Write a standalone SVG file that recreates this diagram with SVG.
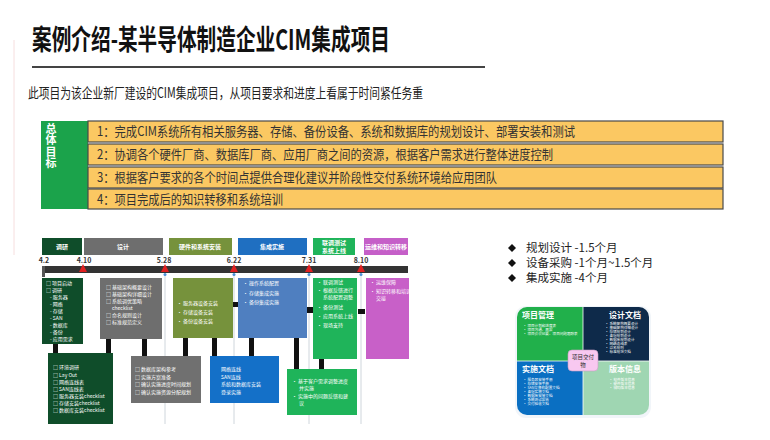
<svg xmlns="http://www.w3.org/2000/svg" width="770" height="440" viewBox="0 0 770 440">
<style>
  text { font-family: "Noto Sans CJK SC", "Liberation Sans", sans-serif; }
  .title { font-size: 28px; font-weight: bold; fill: #111; }
  .sub { font-size: 14px; fill: #222; }
  .row { fill: #fbc862; stroke: #4a4a4a; stroke-width: 1.2; }
  .rowt { font-size: 13px; fill: #333; }
  .goal { font-size: 11px; font-weight: bold; fill: #fff; writing-mode: vertical-rl; letter-spacing: 0.5px; }
  .hd { font-size: 6px; font-weight: bold; fill: #fff; text-anchor: middle; }
  .dt { font-size: 7px; font-weight: bold; fill: #333; text-anchor: middle; }
  .t { font-size: 5px; fill: #fff; }
  .bar { fill: #111; }
  .vl { stroke: #cfd6dc; stroke-width: 1; }
  .bl { font-size: 11.5px; fill: #222; }
  .qh { font-size: 8px; font-weight: bold; fill: #fff; }
  .qt { font-size: 3.6px; fill: #fff; }
</style>

<!-- decoration -->
<line x1="14" y1="40" x2="14" y2="255" stroke="#f6dede" stroke-width="1"/>

<g id="title">
  <text class="title" x="32" y="50" textLength="358" lengthAdjust="spacingAndGlyphs">案例介绍-某半导体制造企业CIM集成项目</text>
  <line x1="32" y1="67" x2="485" y2="67" stroke="#444" stroke-width="2"/>
</g>

<g id="subtitle">
  <text class="sub" x="28" y="98" textLength="395" lengthAdjust="spacingAndGlyphs">此项目为该企业新厂建设的CIM集成项目，从项目要求和进度上看属于时间紧任务重</text>
</g>

<g id="goals">
  <rect x="41" y="121" width="47" height="88" fill="#1ba34b"/>
  <text class="goal" x="51" y="123">总体目标</text>
  <rect class="row" x="88" y="121" width="635" height="21"/>
  <rect class="row" x="88" y="144" width="635" height="21"/>
  <rect class="row" x="88" y="167" width="635" height="21"/>
  <rect class="row" x="88" y="189" width="635" height="20"/>
  <text class="rowt" x="97" y="136" textLength="478" lengthAdjust="spacingAndGlyphs">1：完成CIM系统所有相关服务器、存储、备份设备、系统和数据库的规划设计、部署安装和测试</text>
  <text class="rowt" x="97" y="159" textLength="456" lengthAdjust="spacingAndGlyphs">2：协调各个硬件厂商、数据库厂商、应用厂商之间的资源，根据客户需求进行整体进度控制</text>
  <text class="rowt" x="97" y="182" textLength="400" lengthAdjust="spacingAndGlyphs">3：根据客户要求的各个时间点提供合理化建议并阶段性交付系统环境给应用团队</text>
  <text class="rowt" x="97" y="204" textLength="186" lengthAdjust="spacingAndGlyphs">4：项目完成后的知识转移和系统培训</text>
</g>

<!-- timeline -->
<g id="phase-headers">
  <rect x="42" y="238" width="40" height="17" fill="#0f4d2a"/>
  <text class="hd" x="62" y="249">调研</text>
  <rect x="84" y="238" width="79" height="17" fill="#6e6e6e"/>
  <text class="hd" x="123" y="249">设计</text>
  <rect x="169" y="238" width="63" height="17" fill="#76923c"/>
  <text class="hd" x="200" y="249">硬件和系统安装</text>
  <rect x="238" y="238" width="69" height="17" fill="#1f6fc1"/>
  <text class="hd" x="272" y="249">集成实施</text>
  <rect x="313" y="238" width="42" height="17" fill="#1fb45a"/>
  <text class="hd"><tspan x="334" y="245">联调测试</tspan><tspan x="334" y="252.5">系统上线</tspan></text>
  <rect x="364" y="238" width="44" height="17" fill="#c55fc8"/>
  <text class="hd" x="386" y="249">运维和知识转移</text>
</g>

<g id="timeline-axis">
  <line class="vl" x1="165" y1="274" x2="165" y2="424"/>
  <line class="vl" x1="234" y1="274" x2="234" y2="424"/>
  <line class="vl" x1="309" y1="274" x2="309" y2="424"/>
  <line class="vl" x1="361" y1="274" x2="361" y2="424"/>
  <rect x="42" y="266" width="366" height="7" fill="#333"/>
  <rect x="42" y="266" width="3" height="11" fill="#555"/>
  <text class="dt" x="44" y="263">4.2</text>
  <text class="dt" x="84" y="263">4.10</text>
  <text class="dt" x="164" y="263">5.28</text>
  <text class="dt" x="234" y="263">6.22</text>
  <text class="dt" x="309" y="263">7.31</text>
  <text class="dt" x="361" y="263">8.10</text>
  <g fill="#e02020">
    <polygon points="79,272 83,264 87,272"/>
    <polygon points="161,272 165,264 169,272"/>
    <polygon points="230,272 234,264 238,272"/>
    <polygon points="305,272 309,264 313,272"/>
    <polygon points="357,272 361,264 365,272"/>
  </g>
  <g fill="#4a90d9">
    <circle cx="165" cy="274.5" r="1.5"/>
    <circle cx="234" cy="274.5" r="1.5"/>
    <circle cx="309" cy="274.5" r="1.5"/>
    <circle cx="361" cy="274.5" r="1.5"/>
  </g>
</g>

<g id="connectors">
  <rect class="bar" x="53" y="344" width="5" height="9"/>
  <rect class="bar" x="106" y="339" width="5" height="14"/>
  <rect class="bar" x="142" y="339" width="5" height="17"/>
  <rect class="bar" x="183" y="338" width="5" height="18"/>
  <rect class="bar" x="212" y="338" width="5" height="18"/>
  <rect class="bar" x="249" y="338" width="5" height="18"/>
  <rect class="bar" x="294" y="338" width="5" height="31"/>
  <rect class="bar" x="319" y="359" width="5" height="10"/>
  <rect class="bar" x="233" y="302" width="5" height="5"/>
  <rect class="bar" x="307" y="307" width="6" height="6"/>
  <rect class="bar" x="358" y="309" width="7" height="5"/>
</g>

<g id="research-box">
  <rect x="42" y="278" width="41" height="66" fill="#0f4d2a"/>
  <text class="t"><tspan x="46" y="285">□ 项目启动</tspan><tspan x="46" y="292">□ 调研</tspan><tspan x="50" y="299">- 服务器</tspan><tspan x="50" y="306">- 网络</tspan><tspan x="50" y="313">- 存储</tspan><tspan x="50" y="320">- SAN</tspan><tspan x="50" y="327">- 数据库</tspan><tspan x="50" y="334">- 备份</tspan><tspan x="50" y="341">- 应用需求</tspan></text>
</g>

<g id="design-box">
  <rect x="100" y="278" width="62" height="61" fill="#6e6e6e"/>
  <text class="t"><tspan x="106" y="289">□ 基础架构概要设计</tspan><tspan x="106" y="296">□ 基础架构详细设计</tspan><tspan x="106" y="303">□ 系统调优策略</tspan><tspan x="112" y="310">checklist</tspan><tspan x="106" y="317">□ 命名规则设计</tspan><tspan x="106" y="324">□ 标准规范定义</tspan></text>
</g>

<g id="install-box">
  <rect x="173" y="278" width="60" height="60" fill="#76923c"/>
  <text class="t"><tspan x="177" y="305">•  服务器设备安装</tspan><tspan x="177" y="314">•  存储设备安装</tspan><tspan x="177" y="323">•  备份设备安装</tspan></text>
</g>

<g id="integration-box">
  <rect x="238" y="278" width="69" height="60" fill="#4f7fc0"/>
  <text class="t"><tspan x="243" y="285">•  操作系统配置</tspan><tspan x="243" y="295">•  存储集成实施</tspan><tspan x="243" y="304">•  备份集成实施</tspan></text>
</g>

<g id="testing-box">
  <rect x="313" y="278" width="44" height="81" fill="#1fb45a"/>
  <text class="t"><tspan x="317" y="284">•  联调测试</tspan><tspan x="317" y="292">•  根据反馈进行</tspan><tspan x="323" y="299">系统配置调整</tspan><tspan x="317" y="309">•  备份测试</tspan><tspan x="317" y="318">•  应用系统上线</tspan><tspan x="317" y="327">•  现场支持</tspan></text>
</g>

<g id="ops-box">
  <rect x="366" y="278" width="43" height="81" fill="#c860c8"/>
  <text class="t"><tspan x="370" y="284">•  运维保障</tspan><tspan x="370" y="293">•  知识转移和培训</tspan><tspan x="376" y="300">交接</tspan></text>
</g>

<g id="research-detail">
  <rect x="48" y="353" width="65" height="71" fill="#0f4d2a"/>
  <text class="t"><tspan x="53" y="369">□  环境调研</tspan><tspan x="53" y="377">□  Lay Out</tspan><tspan x="53" y="384">□  网络连线表</tspan><tspan x="53" y="391">□  SAN连线表</tspan><tspan x="53" y="398">□  服务器安装checklist</tspan><tspan x="53" y="405">□  存储安装checklist</tspan><tspan x="53" y="412">□  数据库安装checklist</tspan></text>
</g>

<g id="design-detail">
  <rect x="131" y="356" width="70" height="47" fill="#707070"/>
  <text class="t"><tspan x="135" y="371">□  数据库架构参考</tspan><tspan x="135" y="378.5">□  实施方案准备</tspan><tspan x="135" y="386">□  确认实施进度时间规划</tspan><tspan x="135" y="393.5">□  确认实施资源分配规划</tspan></text>
</g>

<g id="integration-detail">
  <rect x="210" y="356" width="69" height="47" fill="#1470c8"/>
  <text class="t"><tspan x="221" y="371">网络连线</tspan><tspan x="221" y="378.5">SAN连线</tspan><tspan x="221" y="386">系统和数据库安装</tspan><tspan x="221" y="393.5">登录实施</tspan></text>
</g>

<g id="testing-detail">
  <rect x="287" y="369" width="70" height="46" fill="#1fb45a"/>
  <text class="t"><tspan x="292" y="383">•  基于客户需求调整进度</tspan><tspan x="299" y="390">并实施</tspan><tspan x="292" y="398">•  实施中的问题反馈和建</tspan><tspan x="299" y="405">议</tspan></text>
</g>

<g id="durations">
  <path d="M512,244 L516,248 L512,252 L508,248 Z" fill="#111"/>
  <path d="M512,259 L516,263 L512,267 L508,263 Z" fill="#111"/>
  <path d="M512,274 L516,278 L512,282 L508,278 Z" fill="#111"/>
  <text class="bl"><tspan x="526" y="252">规划设计 -1.5个月</tspan><tspan x="526" y="267">设备采购 -1个月~1.5个月</tspan><tspan x="526" y="282">集成实施 -4个月</tspan></text>
</g>

<g id="deliverables">
  <defs>
    <clipPath id="qc"><rect x="517" y="307" width="132" height="108" rx="10"/></clipPath>
  </defs>
  <rect x="515" y="306" width="136" height="112" rx="11" fill="#e8eef5" opacity="0.6"/>
  <g clip-path="url(#qc)">
    <rect x="517" y="307" width="66" height="54" fill="#21b04b"/>
    <rect x="583" y="307" width="66" height="54" fill="#0e2a4a"/>
    <rect x="517" y="361" width="66" height="54" fill="#0a6fc2"/>
    <rect x="583" y="361" width="66" height="54" fill="#9fd6b2"/>
  </g>
  <line x1="583" y1="307" x2="583" y2="415" stroke="#fff" stroke-width="0.8"/>
  <line x1="517" y1="361" x2="649" y2="361" stroke="#fff" stroke-width="0.8"/>
  <text class="qh" x="522" y="318">项目管理</text>
  <text class="qt"><tspan x="523" y="327">• 项目计划和进度表</tspan><tspan x="523" y="331">• 项目沟通、周报</tspan><tspan x="523" y="335">• 项目会议纪要、项目问题跟踪表</tspan></text>
  <text class="qh" x="641" y="318" text-anchor="end">设计文档</text>
  <text class="qt"><tspan x="605" y="325">• 系统架构概要设计</tspan><tspan x="605" y="329">• 基础架构详细设计</tspan><tspan x="605" y="333">• 存储规划设计</tspan><tspan x="605" y="337">• 备份规划设计</tspan><tspan x="605" y="341">• 数据库规划设计</tspan><tspan x="605" y="345">• 网络连线表</tspan><tspan x="605" y="349">• 命名规则</tspan><tspan x="605" y="353">• 标准规范文档</tspan></text>
  <text class="qh" x="522" y="372">实施文档</text>
  <text class="qt"><tspan x="523" y="381">• 服务器安装手册</tspan><tspan x="523" y="385">• 存储安装手册</tspan><tspan x="523" y="389">• SAN交换机配置文档</tspan><tspan x="523" y="393">• 备份实施文档</tspan><tspan x="523" y="397">• 数据库安装文档</tspan><tspan x="523" y="401">• 系统测试报告</tspan><tspan x="523" y="405">• 交付验收文档</tspan></text>
  <text class="qh" x="641" y="372" text-anchor="end">版本信息</text>
  <text class="qt"><tspan x="609" y="381">• 软件版本信息</tspan><tspan x="609" y="385">• 硬件版本信息</tspan><tspan x="609" y="389">• 微码版本信息</tspan></text>
  <rect x="568" y="350" width="30" height="21" rx="4" fill="#f8c8f0" stroke="#c9a0c4" stroke-width="0.6"/>
  <text font-size="5.5" fill="#333" text-anchor="middle"><tspan x="583" y="359">项目交付</tspan><tspan x="583" y="366.5">物</tspan></text>
</g>
</svg>
